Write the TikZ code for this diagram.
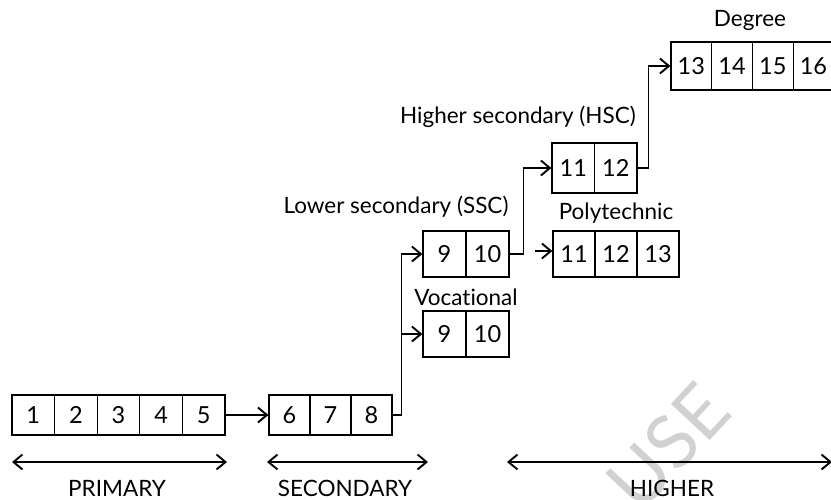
\documentclass[tikz,border=0pt]{standalone}
\usepackage{fontspec}
\setmainfont{Lato}[Ligatures={NoCommon}]
\usetikzlibrary{arrows.meta}
\tikzset{
  cell/.style={draw, line width=1.2pt, inner sep=0pt, font=\fontsize{23.5}{26}\selectfont},
  lab/.style={inner sep=0pt, font=\fontsize{22.5}{26}\selectfont},
  blab/.style={lab, anchor=base},
  arr/.style={line width=1.2pt, -{Straight Barb[length=9pt,width=15pt,line width=1.9pt]}},
  darr/.style={line width=1.2pt, {Straight Barb[length=9pt,width=15pt,line width=1.9pt]}-{Straight Barb[length=9pt,width=15pt,line width=1.9pt]}},
  conn/.style={line width=1.2pt, -{Straight Barb[length=9pt,width=15pt,line width=1.9pt]}}
}
\begin{document}
\begin{tikzpicture}[x=1pt,y=-1pt]
\useasboundingbox (0,0) rectangle (831,499);
% watermark
\node[text=black!18, rotate=47, font=\fontsize{74}{80}\selectfont] (wm) at (668,446) {USE};
% primary
\foreach \t [count=\i] in {1,...,5}
  \node[cell, minimum width=42.6pt, minimum height=40pt] (p\i) at ({12+42.6*(\i-0.5)},415) {\t};
% secondary
\foreach \t [count=\i] in {6,7,8}
  \node[cell, minimum width=41pt, minimum height=40pt] (s\i) at ({269+41*(\i-0.5)},415) {\t};
% lower secondary
\foreach \t [count=\i] in {9,10}
  \node[cell, minimum width=43pt, minimum height=46pt] (a\i) at ({423+43*(\i-0.5)},254) {\t};
% vocational
\foreach \t [count=\i] in {9,10}
  \node[cell, minimum width=43pt, minimum height=46pt] (v\i) at ({423+43*(\i-0.5)},334) {\t};
% higher secondary
\foreach \t [count=\i] in {11,12}
  \node[cell, minimum width=42.5pt, minimum height=50pt] (h\i) at ({552+42.5*(\i-0.5)},168) {\t};
% polytechnic
\foreach \t [count=\i] in {11,12,13}
  \node[cell, minimum width=42pt, minimum height=46pt] (t\i) at ({553+42*(\i-0.5)},254) {\t};
% degree
\foreach \t [count=\i] in {13,14,15,16}
  \node[cell, minimum width=40.7pt, minimum height=48pt] (d\i) at ({671+40.7*(\i-0.5)},66) {\t};
% labels
\node[lab] (ldeg) at (750,20) {Degree};
\node[lab] (lhsc) at (518,117) {Higher secondary (HSC)};
\node[lab] (lssc) at (396,207) {Lower secondary (SSC)};
\node[lab] (lpoly) at (616,213) {Polytechnic};
\node[lab] (lvoc) at (466,297) {Vocational};
% connectors
\draw[arr] (p5.east) -- (s1.west);
\draw[conn] (s3.east) -- ++(9,0) |- (a1.west);
\draw[conn] (s3.east) -- ++(9,0) |- (v1.west);
\draw[conn] (a2.east) -- ++(14,0) |- (h1.west);
\draw[conn] (h2.east) -- ++(11,0) |- (d1.west);
\coordinate (polystart) at (535,251);
\draw[arr] (polystart) -- (t1.west |- polystart);
% bottom ranges
\coordinate (pa) at (12,462);
\coordinate (pb) at (227,462);
\coordinate (sa) at (267,462);
\coordinate (sb) at (428,462);
\coordinate (ha) at (507,462);
\coordinate (hb) at (832,462);
\draw[darr] (pa) -- (pb);
\draw[darr] (sa) -- (sb);
\draw[darr] (ha) -- (hb);
\node[blab] (lpri) at (117,496) {PRIMARY};
\node[blab] (lsec) at (345,496) {SECONDARY};
\node[blab] (lhig) at (672,496) {HIGHER};
\end{tikzpicture}
\end{document}
